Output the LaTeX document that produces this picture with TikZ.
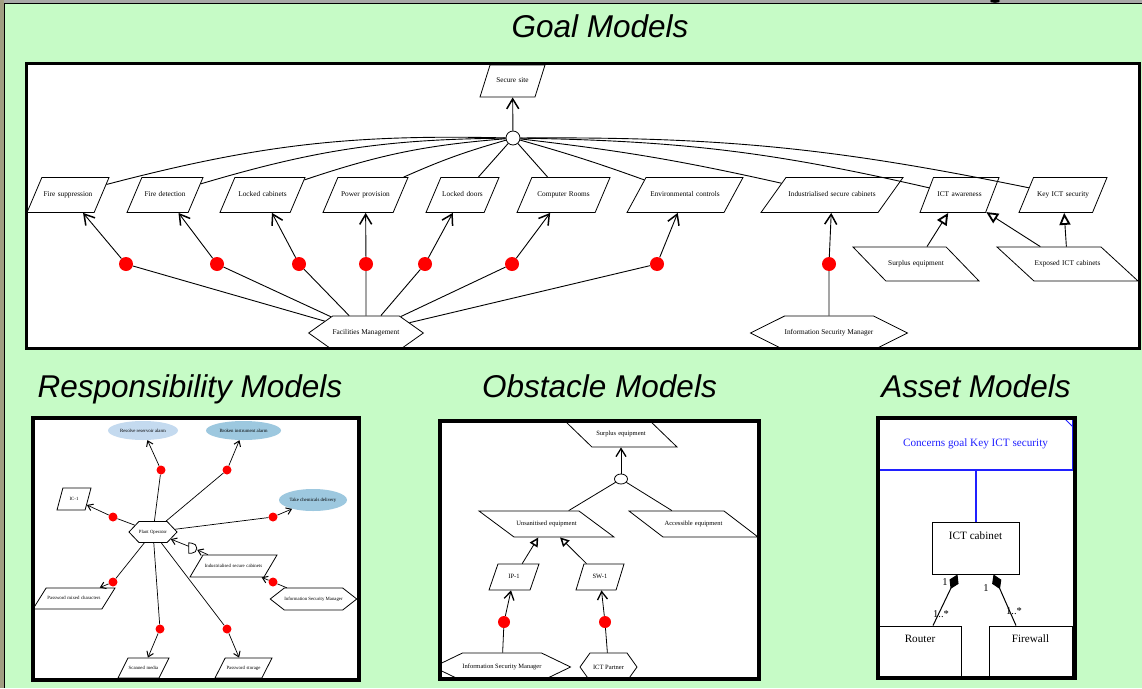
\documentclass[tikz,border=0pt]{standalone}
\usepackage{fontspec}
\setmainfont{Liberation Serif}
\newfontfamily\titlefont{Liberation Sans}
\usetikzlibrary{arrows.meta,shapes.geometric,shapes.symbols,calc}
\definecolor{bggreen}{RGB}{198,251,198}
\definecolor{topgrey}{RGB}{168,168,168}
\definecolor{sidegrey}{RGB}{160,158,130}
\definecolor{lightblue}{RGB}{196,218,239}
\definecolor{midblue}{RGB}{157,200,223}
\definecolor{noteblue}{RGB}{32,32,255}
\begin{document}
\begin{tikzpicture}[x=1pt,y=-1pt,
  % parallelogram: #1 span (outer width), #2 height, #3 acute angle, #4 font size
  pgsize/.style n args={4}{/utils/exec={%
      \pgfmathsetmacro\gtw{#1-2*#2/tan(#3)}%
      \pgfmathsetmacro\gys{(#2-0.9*#4)/2}%
      \pgfmathsetmacro\gth{0.68*#4}%
      \pgfmathsetmacro\gtd{0.22*#4}%
      \pgfmathsetmacro\gob{180-#3}},
    text width=\gtw pt, inner ysep=\gys pt, inner xsep=0pt,
    text height=\gth pt, text depth=\gtd pt, align=center,
    font=\fontsize{#4}{#4}\selectfont},
  goal/.style n args={4}{trapezium, draw, fill=white, line width=0.8pt,
    pgsize={#1}{#2}{#3}{#4}, trapezium left angle=#3, trapezium right angle=\gob},
  obst/.style n args={4}{trapezium, draw, fill=white, line width=0.8pt,
    pgsize={#1}{#2}{#3}{#4}, trapezium left angle=\gob, trapezium right angle=#3},
  hexa/.style={signal, signal to=east and west, signal pointer angle=#1, draw, fill=white, inner sep=0pt, line width=0.8pt},
  reddot/.style={circle, fill=red, inner sep=0pt, minimum size=#1},
  andc/.style={circle, draw, fill=white, line width=0.8pt, inner sep=0pt, minimum size=14pt},
  gfont/.style={font=\fontsize{7.3}{8}\selectfont},
  rfont/.style={font=\fontsize{4.8}{5}\selectfont},
  ofont/.style={font=\fontsize{6.5}{7}\selectfont},
  afont/.style={font=\fontsize{11.2}{13}\selectfont},
  glink/.style={line width=0.9pt},
  garr/.style={-{Straight Barb[length=10pt,width=12pt,line width=1.5pt]}, line width=0.9pt},
  gtri/.style={-{Triangle[open,length=12pt,width=11pt,line width=1.8pt]}, line width=0.9pt},
  rlink/.style={line width=0.7pt},
  rarr/.style={-{Straight Barb[length=5pt,width=7pt,line width=1pt]}, line width=0.7pt},
  olink/.style={line width=0.8pt},
  oarr/.style={-{Straight Barb[length=8pt,width=10pt,line width=1.3pt]}, line width=0.8pt},
  otri/.style={-{Triangle[open,length=9pt,width=9pt,line width=1.5pt]}, line width=0.8pt},
  modframe/.style={draw, line width=4pt},
  title/.style={font=\titlefont\itshape\fontsize{31.5}{36}\selectfont, anchor=base, inner sep=0pt},
  ebox/.style={rectangle, draw, fill=white, line width=0.9pt, inner sep=0pt},
  mult/.style={font=\fontsize{10.5}{12}\selectfont, inner sep=0pt},
]
\useasboundingbox (0,0) rectangle (1142,688);
% background
\fill[bggreen] (0,0) rectangle (1142,688);
\fill[topgrey] (0,0) rectangle (1142,3);
\draw[line width=1pt] (0,3.5) -- (1142,3.5);
\fill[sidegrey] (0,0) rectangle (4,688);
\draw[line width=1pt] (4.5,3) -- (4.5,688);
\fill (995,1) ellipse (5 and 1.8);

% titles
\node[title] (tg) at (600,37.5) {Goal Models};
\node[title] (tr) at (190,397) {Responsibility Models};
\node[title] (to) at (599.5,397) {Obstacle Models};
\node[title] (ta) at (976,397) {Asset Models};

%================ GOAL MODEL
\fill[white] (26,63) rectangle (1139,348);
\begin{scope}
\clip (26,63) rectangle (1139,348);
\node[goal={65}{32}{72.6}{7.3}] (ss) at (512.5,81) {Secure site};
\node[andc] (and1) at (513,138) {};
\node[goal={82}{35}{67}{7.3}] (fs) at (68,195) {Fire suppression};
\node[goal={76}{35}{67}{7.3}] (fd) at (165,195) {Fire detection};
\node[goal={85}{35}{67}{7.3}] (lc) at (262.5,195) {Locked cabinets};
\node[goal={85}{35}{67}{7.3}] (pp) at (365.5,195) {Power provision};
\node[goal={73}{35}{67}{7.3}] (ld) at (462.5,195) {Locked doors};
\node[goal={93}{35}{67}{7.3}] (cr) at (563.5,195) {Computer Rooms};
\node[goal={116}{35}{61.5}{7.3}] (ec) at (685,195) {Environmental controls};
\node[goal={142}{35}{54.5}{7.3}] (isc) at (832,195) {Industrialised secure cabinets};
\node[goal={79}{35}{69}{7.3}] (ict) at (959.5,195) {ICT awareness};
\node[goal={88}{35}{67.5}{7.3}] (key) at (1063,195) {Key ICT security};
\node[obst={126}{34}{46}{7.3}] (surp) at (916,264) {Surplus equipment};
\node[obst={141}{34}{42.6}{7.3}] (expo) at (1067.5,264) {Exposed ICT cabinets};
\node[hexa=70.6, minimum width=106pt, minimum height=34pt, gfont] (fm) at (366,333) {Facilities Management};
\node[hexa=53, minimum width=140pt, minimum height=34pt, gfont] (ismg) at (829,333) {Information Security Manager};
\foreach \n/\x in {d1/126,d2/217,d3/299,d4/366,d5/425,d6/512,d7/657,d8/829}
  \node[reddot=14pt] (\n) at (\x,264) {};
% connectors
\draw[garr] (and1) -- (ss);
\draw[glink] (fs) to[bend left=8] (and1);
\draw[glink] (fd) to[bend left=8] (and1);
\draw[glink] (lc) to[bend left=7] (and1);
\draw[glink] (pp) to[bend left=4] (and1);
\draw[glink] (ld) -- (and1);
\draw[glink] (cr) -- (and1);
\draw[glink] (and1) to[bend left=2] (ec);
\draw[glink] (and1) to[bend left=3] (isc);
\draw[glink] (and1) to[bend left=6] (ict);
\draw[glink] (and1) to[bend left=6] (key);
\foreach \d/\g in {d1/fs,d2/fd,d3/lc,d4/pp,d5/ld,d6/cr,d7/ec}{
  \draw[glink] (fm) -- (\d);
  \draw[garr] (\d) -- (\g);
}
\draw[glink] (ismg) -- (d8);
\draw[garr] (d8) -- (isc);
\draw[gtri] (surp) -- (ict);
\draw[gtri] (expo) -- (ict);
\draw[gtri] (expo) -- (key);
\end{scope}
\draw[line width=3pt] (26,63) rectangle (1139,348);

%================ RESPONSIBILITY MODEL
\fill[white] (33,418) rectangle (359,680);
\begin{scope}
\clip (33,418) rectangle (359,680);
\node[ellipse, fill=lightblue, inner sep=0pt, minimum width=70pt, minimum height=19pt, rfont] (rra) at (143,430.5) {Resolve reservoir alarm};
\node[ellipse, fill=midblue, inner sep=0pt, minimum width=75pt, minimum height=19pt, rfont] (bia) at (243.5,430.5) {Broken instrument alarm};
\node[ellipse, fill=midblue, inner sep=0pt, minimum width=68pt, minimum height=22pt, rfont] (tcd) at (313,500) {Take chemicals delivery};
\node[goal={34}{22}{75}{4.8}] (ic1) at (74,499) {IC-1};
\node[hexa=93, minimum width=48pt, minimum height=21pt, rfont] (po) at (153,532) {Plant Operator};
\node[rectangle, inner sep=0pt, minimum width=8pt, minimum height=10pt] (dsh) at (193,548) {};
\draw[fill=white, line width=0.8pt] (dsh.north west) -- (dsh.south west) -- ++(3pt,0pt)
  arc[start angle=-90, end angle=90, radius=5pt] -- cycle;
\node[goal={87}{22}{59.4}{4.8}] (iscr) at (233.5,566) {Industrialised secure cabinets};
\node[hexa=76, minimum width=85pt, minimum height=22pt, rfont] (ismr) at (313.5,599) {Information Security Manager};
\node[goal={82}{21}{58}{4.8}] (pmc) at (74,598.5) {Password mixed characters};
\node[goal={51}{20}{63.4}{4.8}] (sm) at (143.5,668) {Scanned media};
\node[goal={57}{20}{63}{4.8}] (ps) at (243.5,668) {Password storage};
\node[reddot=9pt] (r1) at (161,470) {};
\node[reddot=9pt] (r2) at (227,470) {};
\node[reddot=9pt] (r3) at (113,517) {};
\node[reddot=9pt] (r4) at (273,517) {};
\node[reddot=9pt] (r5) at (113,582) {};
\node[reddot=9pt] (r6) at (273,582) {};
\node[reddot=9pt] (r7) at (160,629) {};
\node[reddot=9pt] (r8) at (227,629) {};
\foreach \d/\g in {r1/rra,r2/bia,r3/ic1,r4/tcd,r5/pmc,r7/sm,r8/ps}{
  \draw[rlink] (po) -- (\d);
  \draw[rarr] (\d) -- (\g);
}
\draw[rlink] (ismr) -- (r6);
\draw[rarr] (r6) -- (iscr);
\draw[rarr] (iscr) -- (dsh);
\draw[rarr] (dsh) -- (po);
\end{scope}
\draw[modframe] (33,418) rectangle (359,680);

%================ OBSTACLE MODEL
\fill[white] (440,421) rectangle (759,679);
\begin{scope}
\clip (440,421) rectangle (759,679);
\node[obst={112}{26}{44}{6.5}] (surp2) at (621,434) {Surplus equipment};
\node[ellipse, draw, fill=white, line width=0.8pt, inner sep=0pt, minimum width=13pt, minimum height=10pt] (and2) at (621,479) {};
\node[obst={135}{26}{36.6}{6.5}] (une) at (546.5,524) {Unsanitised equipment};
\node[obst={129}{26}{37.4}{6.5}] (acc) at (693.5,524) {Accessible equipment};
\node[goal={50}{26}{71}{6.5}] (ip1) at (514,577) {IP-1};
\node[goal={48}{26}{73}{6.5}] (sw1) at (600,577) {SW-1};
\node[reddot=12pt] (od1) at (504,622) {};
\node[reddot=12pt] (od2) at (605,622) {};
\node[hexa=51.5, minimum width=122pt, minimum height=28pt, ofont] (ismo) at (502,667) {Information Security Manager};
\node[hexa=109, minimum width=57pt, minimum height=28pt, ofont] (ictp) at (608.5,667) {ICT Partner};
\draw[olink] (une) -- (and2);
\draw[olink] (acc) -- (and2);
\draw[oarr] (and2) -- (surp2);
\draw[otri] (ip1) -- (une);
\draw[otri] (sw1) -- (une);
\draw[olink] (ismo) -- (od1);
\draw[oarr] (od1) -- (ip1);
\draw[olink] (ictp) -- (od2);
\draw[oarr] (od2) -- (sw1);
\end{scope}
\draw[modframe] (440,421) rectangle (759,679);

%================ ASSET MODEL
\fill[white] (878,418) rectangle (1075,678);
\node[rectangle, draw=noteblue, line width=1.2pt, inner sep=0pt, minimum width=195pt, minimum height=52pt, text=noteblue, afont] (note) at (975.5,444) {Concerns goal Key ICT security};
\draw[noteblue, line width=1pt] (1064,418) -- (1073,427);
\node[ebox, minimum width=87pt, minimum height=52pt, label={[afont, anchor=north, yshift=-6.5pt]north:ICT cabinet}] (cab) at (975.5,548) {};
\node[ebox, minimum width=82pt, minimum height=52pt, label={[afont, anchor=north, yshift=-5.6pt]north:Router}] (router) at (920,652) {};
\node[ebox, minimum width=83pt, minimum height=52pt, label={[afont, anchor=north, yshift=-5.6pt]north:Firewall}] (firewall) at (1030.5,652) {};
\draw[color=noteblue, line width=2pt] (note.south) -- (cab.north);
\draw[{Diamond[length=16pt,width=10pt]}-, line width=1pt] ($(cab.south)+(-18,0)$) -- ($(router.north)+(13,0)$);
\draw[{Diamond[length=16pt,width=10pt]}-, line width=1pt] ($(cab.south)+(18,0)$) -- ($(firewall.north)+(-14.5,0)$);
\node[mult] (m1) at (945,582) {1};
\node[mult] (m2) at (986,588) {1};
\node[mult] (m3) at (941,614) {1..*};
\node[mult] (m4) at (1014,611) {1..*};
\draw[modframe] (878,418) rectangle (1075,678);
\end{tikzpicture}
\end{document}
